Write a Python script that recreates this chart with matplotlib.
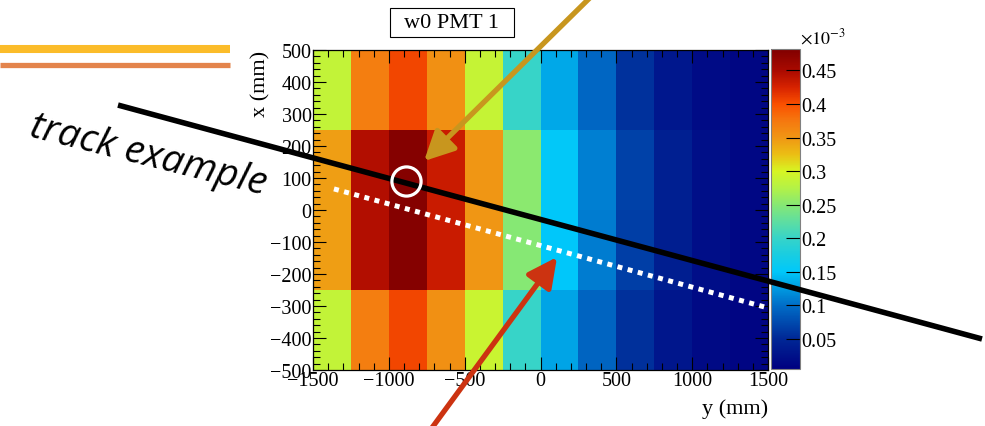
import numpy as np
import matplotlib
matplotlib.use("Agg")
import matplotlib.pyplot as plt
from matplotlib.colors import LinearSegmentedColormap, Normalize
from matplotlib.lines import Line2D
from matplotlib.patches import Rectangle
from matplotlib.ticker import MultipleLocator, FixedLocator, FuncFormatter

plt.rcParams["font.family"] = ["Liberation Serif", "DejaVu Serif"]
plt.rcParams["mathtext.fontset"] = "stix"

# bin edges (mm)
y_edges = np.arange(-1500, 1501, 250)
x_edges = np.arange(-500, 501, 250)

# weights per bin, units of 1e-3, rows from x=-500 upwards
row_x_m500 = [0.285, 0.370, 0.405, 0.355, 0.290, 0.200, 0.130, 0.093, 0.056, 0.031, 0.017, 0.011]
row_x_m250 = [0.345, 0.445, 0.478, 0.432, 0.350, 0.250, 0.150, 0.108, 0.066, 0.039, 0.021, 0.013]
row_x_0 = [0.345, 0.445, 0.478, 0.432, 0.350, 0.252, 0.152, 0.110, 0.068, 0.040, 0.022, 0.014]
row_x_250 = [0.285, 0.370, 0.405, 0.355, 0.287, 0.200, 0.132, 0.095, 0.057, 0.032, 0.018, 0.012]

z_min, z_max = 0.005, 0.482
cbar_ticks = [0.05, 0.1, 0.15, 0.2, 0.25, 0.3, 0.35, 0.4, 0.45]

# palette stops (value, colour)
palette = [
    (0.005, "#000080"), (0.05, "#002896"), (0.075, "#004baf"), (0.10, "#006ec8"),
    (0.125, "#009be1"), (0.15, "#00c8fa"), (0.175, "#19cde1"), (0.20, "#37d4c8"),
    (0.225, "#5fdea0"), (0.25, "#87e873"), (0.275, "#b4f246"), (0.30, "#d7f523"),
    (0.325, "#ebbe14"), (0.35, "#f09614"), (0.375, "#f5780f"), (0.40, "#fa5000"),
    (0.425, "#d72300"), (0.45, "#aa0a00"), (0.482, "#800000"),
]
cmap = LinearSegmentedColormap.from_list(
    "rainbow_root",
    [((v - z_min) / (z_max - z_min), c) for v, c in palette], N=512)

# overlay: track line, projected track, hit, arrows (y, x in mm)
track_y = [-2786, 2911]
track_x = [328, -403]
proj_y = [-1362, 1500]
proj_x = [66, -306]
hit_y, hit_x = -887, 91
gold_from, gold_to = (370, 684), (-768, 153)
red_from, red_to = (-755, -706), (109, -147)

z = np.array([row_x_m500, row_x_m250, row_x_0, row_x_250])

fig = plt.figure(figsize=(9.85, 4.27), dpi=100)
ax = fig.add_axes([0.3178, 0.1311, 0.4619, 0.7494])
cax = fig.add_axes([0.7827, 0.1335, 0.0294, 0.7494])
ax.set_zorder(3)

mesh = ax.pcolormesh(y_edges, x_edges, z, cmap=cmap,
                     norm=Normalize(vmin=z_min, vmax=z_max))
ax.set_xlim(-1500, 1500)
ax.set_ylim(-500, 500)

ax.xaxis.set_major_locator(MultipleLocator(500))
ax.xaxis.set_minor_locator(MultipleLocator(100))
ax.yaxis.set_major_locator(MultipleLocator(100))
ax.yaxis.set_minor_locator(MultipleLocator(20))
ax.tick_params(which="both", direction="in", top=True, right=True,
               width=0.8, labelsize=14.5)
ax.tick_params(which="major", length=9.5)
ax.tick_params(which="minor", length=5)
ax.tick_params(axis="x", pad=1)
ax.tick_params(axis="y", pad=1)
for s in ax.spines.values():
    s.set_linewidth(0.9)

ax.set_xlabel("y (mm)", fontsize=16, loc="right", va="center")
ax.xaxis.set_label_coords(1.0, -0.119)
ax.set_ylabel("x (mm)", fontsize=16, loc="top", va="center")
ax.yaxis.set_label_coords(-0.115, 1.0)

cb = fig.colorbar(mesh, cax=cax)
cb.set_ticks(FixedLocator(cbar_ticks))
cb.ax.yaxis.set_major_formatter(FuncFormatter(lambda v, p: "%g" % v))
cb.ax.minorticks_off()
cax.tick_params(direction="in", length=10, width=0.8, labelsize=14.5, pad=1)
cb.outline.set_edgecolor("#808080")
cb.outline.set_linewidth(0.8)
cax.text(1.0, 1.005, r"$\times10^{-3}$", transform=cax.transAxes,
         ha="left", va="bottom", fontsize=13)

# track overlays
ax.plot(track_y, track_x, color="black", lw=4, clip_on=False,
        solid_capstyle="butt")
ax.plot(proj_y, proj_x, color="white", lw=3.6, ls=(0, (1, 1.1)),
        dash_capstyle="butt", clip_on=False)
ax.plot([hit_y], [hit_x], marker="o", ms=21, mfc="none", mec="white",
        mew=2.3, clip_on=False)

for start, end, col in [(gold_from, gold_to, "#c8961e"),
                        (red_from, red_to, "#cc3311")]:
    ax.annotate("", xy=end, xytext=start, annotation_clip=False,
                arrowprops=dict(arrowstyle="-|>,head_length=0.9,head_width=0.45",
                                mutation_scale=20, color=col, lw=3.8,
                                shrinkA=0, shrinkB=0))

# histogram title box
fig.add_artist(Rectangle((390 / 985, 1 - 38 / 427), 124 / 985, 29 / 427,
                         transform=fig.transFigure, fc="white", ec="black",
                         lw=0.8))
fig.text(452 / 985, 1 - 24 / 427, "w0 PMT 1", ha="center", va="center",
         fontsize=16)

# slide decorations
fig.add_artist(Line2D([0, 230 / 985], [1 - 50 / 427] * 2, color="#fbbc2a",
                      lw=5.8, transform=fig.transFigure, solid_capstyle="butt"))
fig.add_artist(Line2D([0, 230 / 985], [1 - 66 / 427] * 2, color="#e3844c",
                      lw=3.8, transform=fig.transFigure, solid_capstyle="butt"))
fig.text(148 / 985, 1 - 156 / 427, "track example", rotation=-14,
         ha="center", va="center", fontsize=28, style="italic",
         family=["Open Sans", "DejaVu Sans"], rotation_mode="anchor")

fig.savefig("out.png", dpi=100)
